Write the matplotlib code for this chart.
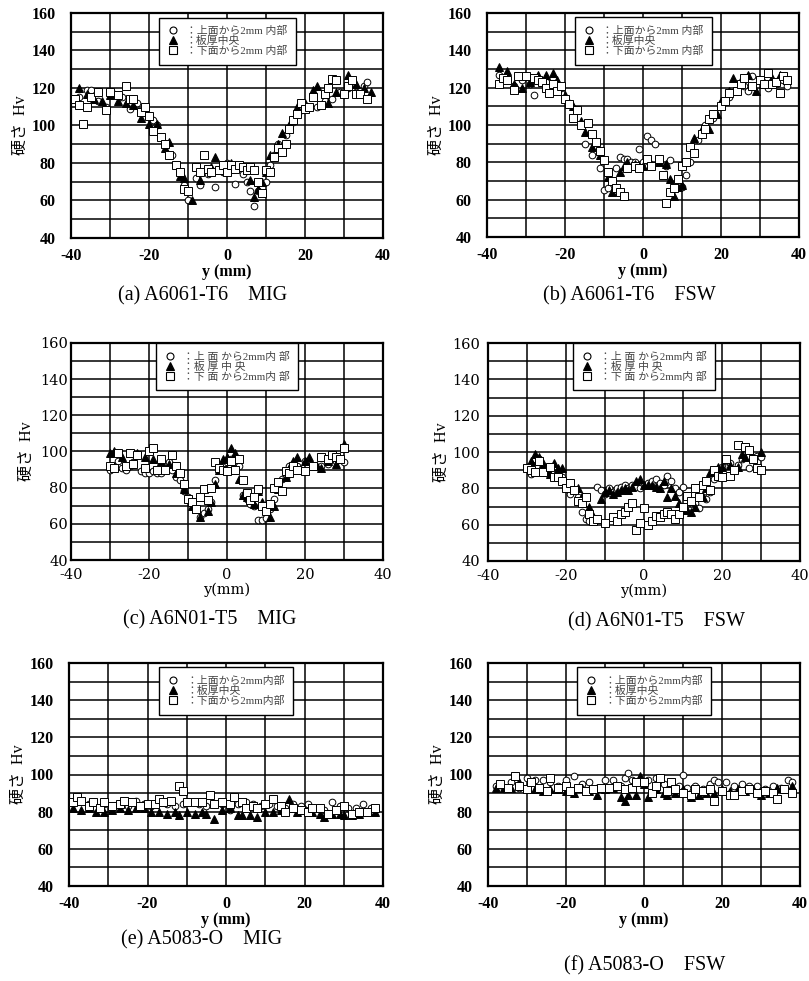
import matplotlib
matplotlib.use("Agg")
import matplotlib.pyplot as plt
from matplotlib.ticker import MultipleLocator

plt.rcParams['font.family'] = ['Liberation Serif', 'Noto Sans CJK JP']
plt.rcParams['axes.unicode_minus'] = False

# (a) A6061-T6 MIG  -- (y [mm], Hv)
a_top = [(-38, 115), (-36, 119), (-35, 119), (-33, 113), (-31, 110), (-29, 117), (-27, 115),
         (-25, 109), (-23, 112), (-21, 108), (-19, 103), (-18, 100), (-16, 90), (-14, 84),
         (-12, 75), (-11, 68), (-10, 60), (-8, 72), (-7, 68), (-5, 74), (-3, 67), (-1, 75),
         (0, 80), (2, 69), (4, 74), (5, 70), (6, 65), (7, 57), (8, 65), (10, 70), (11, 79),
         (12, 84), (13, 90), (15, 95), (17, 102), (19, 108), (21, 110), (23, 110), (25, 113),
         (27, 114), (29, 118), (31, 120), (33, 118), (35, 121), (36, 123)]
a_mid = [(-38, 120), (-36, 117), (-34, 114), (-32, 113), (-30, 116), (-28, 113), (-26, 112),
         (-24, 111), (-22, 104), (-20, 101), (-18, 101), (-16, 88), (-15, 91), (-12, 73),
         (-11, 72), (-9, 60), (-7, 71), (-4, 78), (-3, 83), (-1, 79), (1, 80), (3, 78),
         (5, 76), (6, 71), (7, 62), (8, 66), (9, 70), (10, 75), (11, 84), (13, 90), (14, 96),
         (16, 100), (18, 110), (20, 112), (22, 119), (23, 121), (25, 118), (26, 112), (28, 118),
         (31, 127), (33, 122), (35, 120), (37, 118)]
a_bot = [(-39, 114), (-38, 111), (-37, 101), (-36, 110), (-35, 115), (-33, 118), (-31, 108),
         (-30, 118), (-28, 116), (-26, 121), (-25, 114), (-24, 114), (-22, 107), (-21, 110),
         (-20, 105), (-19, 97), (-17, 94), (-16, 90), (-15, 84), (-13, 79), (-12, 75),
         (-11, 66), (-10, 65), (-8, 78), (-7, 75), (-6, 84), (-5, 77), (-4, 75), (-2, 76),
         (-1, 79), (0, 75), (1, 79), (2, 77), (3, 79), (4, 78), (5, 76), (6, 78), (7, 76),
         (8, 70), (9, 64), (10, 76), (11, 75), (12, 83), (13, 88), (14, 86), (15, 90), (16, 98),
         (17, 103), (18, 106), (19, 112), (20, 109), (21, 110), (22, 115), (24, 111), (25, 117),
         (26, 120), (27, 125), (28, 124), (30, 117), (31, 121), (32, 124), (33, 117), (34, 117),
         (36, 114)]

# (b) A6061-T6 FSW
b_top = [(-37, 127), (-35, 124), (-33, 121), (-31, 124), (-29, 122), (-28, 116), (-25, 123),
         (-23, 121), (-21, 120), (-19, 112), (-17, 108), (-16, 100), (-15, 90), (-13, 84),
         (-11, 77), (-10, 65), (-9, 66), (-7, 77), (-6, 83), (-5, 82), (-4, 82), (-3, 80),
         (-2, 80), (-1, 87), (0, 80), (1, 94), (2, 92), (3, 90), (4, 81), (6, 78), (7, 81),
         (10, 67), (11, 73), (12, 80), (14, 92), (16, 100), (18, 104), (20, 110), (22, 115),
         (24, 118), (26, 121), (27, 118), (28, 126), (30, 124), (32, 120), (34, 122), (36, 124),
         (37, 121)]
b_mid = [(-37, 131), (-35, 129), (-33, 122), (-31, 120), (-29, 123), (-27, 127), (-25, 127),
         (-23, 128), (-22, 124), (-20, 116), (-18, 110), (-16, 102), (-15, 96), (-13, 88),
         (-11, 84), (-9, 72), (-8, 64), (-6, 75), (-5, 78), (-4, 80), (-2, 79), (0, 78),
         (2, 79), (4, 80), (6, 79), (7, 71), (8, 62), (9, 67), (10, 68), (11, 80), (13, 93),
         (15, 98), (17, 98), (19, 106), (20, 113), (22, 118), (23, 125), (25, 124), (27, 127),
         (29, 118), (31, 123), (33, 125), (35, 127), (37, 124)]
b_bot = [(-37, 122), (-36, 125), (-35, 124), (-33, 119), (-32, 126), (-30, 126), (-28, 125),
         (-27, 124), (-26, 123), (-25, 120), (-24, 117), (-23, 122), (-22, 118), (-21, 121),
         (-20, 114), (-19, 111), (-18, 104), (-17, 108), (-16, 100), (-14, 101), (-13, 95),
         (-12, 91), (-11, 86), (-10, 81), (-9, 75), (-8, 70), (-7, 66), (-6, 64), (-5, 62),
         (-4, 77), (-2, 78), (-1, 77), (1, 82), (2, 78), (4, 82), (5, 73), (6, 58), (7, 64),
         (8, 66), (9, 71), (10, 78), (11, 80), (12, 88), (13, 85), (15, 95), (16, 98),
         (17, 103), (18, 106), (20, 110), (21, 113), (22, 117), (24, 118), (25, 122), (26, 125),
         (28, 121), (30, 124), (31, 122), (32, 128), (33, 122), (34, 123), (35, 117), (36, 126),
         (37, 124)]

# (c) A6N01-T5 MIG
c_top = [(-30, 90), (-29, 92), (-28, 95), (-27, 91), (-26, 90), (-25, 92), (-24, 94), (-22, 89),
         (-21, 88), (-20, 88), (-19, 89), (-18, 88), (-17, 88), (-16, 91), (-15, 94), (-14, 90),
         (-13, 86), (-12, 84), (-11, 78), (-10, 75), (-9, 72), (-8, 68), (-7, 64), (-6, 66),
         (-5, 68), (-4, 72), (-3, 84), (-2, 90), (-1, 92), (0, 94), (1, 96), (2, 94), (3, 92),
         (4, 76), (5, 74), (6, 71), (7, 70), (8, 62), (9, 62), (10, 63), (11, 68), (12, 74),
         (13, 80), (14, 85), (15, 86), (16, 92), (17, 93), (18, 92), (19, 90), (20, 95),
         (22, 92), (24, 92), (26, 93), (28, 95), (30, 94)]
c_mid = [(-30, 99), (-29, 100), (-27, 97), (-25, 99), (-23, 99), (-21, 97), (-19, 96), (-17, 95),
         (-15, 93), (-13, 88), (-11, 79), (-9, 70), (-8, 68), (-7, 64), (-5, 67), (-4, 72),
         (-3, 82), (-2, 90), (-1, 96), (0, 97), (1, 102), (2, 99), (3, 85), (4, 76), (5, 75),
         (6, 73), (7, 71), (8, 78), (9, 72), (10, 69), (11, 64), (12, 70), (13, 79), (15, 86),
         (16, 91), (17, 95), (18, 97), (20, 95), (21, 97), (23, 92), (24, 91), (26, 95),
         (28, 93), (30, 104)]
c_bot = [(-30, 92), (-29, 91), (-28, 99), (-26, 92), (-25, 99), (-24, 93), (-23, 98), (-21, 91),
         (-20, 100), (-19, 102), (-18, 90), (-17, 96), (-16, 90), (-14, 98), (-13, 92), (-12, 88),
         (-11, 82), (-10, 74), (-9, 72), (-8, 68), (-7, 75), (-6, 79), (-5, 73), (-4, 80),
         (-3, 94), (-2, 91), (-1, 90), (0, 89), (1, 95), (2, 90), (3, 96), (4, 84), (5, 77),
         (6, 73), (7, 75), (8, 79), (9, 70), (10, 67), (11, 71), (12, 80), (13, 83), (14, 78),
         (15, 89), (16, 88), (17, 92), (18, 90), (20, 89), (22, 92), (24, 97), (26, 96),
         (27, 98), (28, 97), (29, 96), (30, 102)]

# (d) A6N01-T5 FSW
d_top = [(-30, 92), (-29, 88), (-28, 96), (-27, 96), (-26, 90), (-24, 92), (-22, 88), (-21, 86),
         (-20, 80), (-19, 77), (-17, 75), (-16, 67), (-15, 63), (-14, 62), (-13, 63), (-12, 81),
         (-11, 79), (-10, 77), (-9, 80), (-8, 78), (-7, 80), (-6, 81), (-5, 82), (-4, 80),
         (-3, 82), (-2, 81), (-1, 80), (0, 82), (1, 83), (2, 84), (3, 85), (4, 83), (5, 82),
         (6, 87), (7, 84), (8, 80), (9, 78), (10, 81), (11, 76), (12, 72), (13, 72), (14, 69),
         (15, 75), (16, 74), (17, 78), (18, 85), (19, 88), (20, 92), (21, 95), (22, 94),
         (24, 93), (25, 96), (27, 91), (29, 98), (30, 97)]
d_mid = [(-29, 95), (-28, 99), (-27, 97), (-26, 94), (-25, 89), (-24, 88), (-23, 94), (-22, 91),
         (-21, 91), (-19, 82), (-17, 80), (-16, 76), (-14, 70), (-13, 65), (-11, 74), (-10, 78),
         (-9, 79), (-8, 77), (-7, 78), (-6, 79), (-5, 80), (-4, 79), (-3, 81), (-2, 84),
         (-1, 85), (0, 82), (1, 82), (2, 82), (3, 81), (4, 80), (5, 84), (6, 75), (7, 80),
         (8, 76), (9, 72), (10, 68), (11, 68), (12, 67), (13, 70), (15, 75), (16, 80), (17, 89),
         (18, 90), (19, 92), (20, 92), (22, 93), (24, 92), (25, 99), (26, 97), (28, 97),
         (30, 100)]
d_bot = [(-30, 91), (-29, 90), (-28, 89), (-27, 95), (-26, 89), (-24, 92), (-23, 86), (-22, 86),
         (-21, 84), (-20, 80), (-19, 83), (-18, 79), (-17, 73), (-16, 72), (-15, 75), (-14, 66),
         (-13, 62), (-12, 63), (-10, 61), (-8, 64), (-7, 62), (-6, 66), (-5, 67), (-4, 70),
         (-3, 72), (-2, 57), (-1, 61), (0, 69), (1, 60), (2, 62), (3, 65), (4, 64), (5, 66),
         (6, 67), (7, 66), (8, 63), (9, 66), (10, 70), (11, 76), (12, 73), (13, 80), (14, 75),
         (15, 82), (16, 84), (17, 79), (18, 90), (19, 87), (20, 86), (21, 96), (22, 87),
         (23, 90), (24, 104), (26, 103), (27, 101), (28, 96), (29, 91), (30, 90)]

# (e) A5083-O MIG
e_top = [(-39, 85), (-37, 86), (-35, 84), (-33, 82), (-31, 84), (-29, 83), (-27, 84), (-25, 83),
         (-23, 86), (-21, 84), (-19, 83), (-17, 85), (-15, 84), (-13, 83), (-11, 84), (-9, 85),
         (-7, 84), (-5, 83), (-3, 84), (-1, 84), (1, 81), (3, 84), (5, 85), (7, 84), (9, 83),
         (11, 84), (13, 83), (15, 82), (17, 84), (19, 83), (21, 84), (23, 82), (25, 81),
         (27, 85), (29, 83), (31, 82), (33, 82), (35, 84), (37, 82)]
e_mid = [(-39, 82), (-37, 81), (-35, 82), (-33, 80), (-31, 80), (-29, 81), (-27, 82), (-25, 81),
         (-23, 82), (-21, 82), (-19, 80), (-17, 80), (-15, 79), (-13, 80), (-12, 78), (-10, 80),
         (-8, 79), (-6, 80), (-5, 79), (-3, 76), (-1, 81), (1, 82), (3, 78), (4, 78), (6, 78),
         (8, 77), (10, 80), (12, 80), (14, 81), (16, 87), (18, 80), (20, 81), (22, 80), (24, 79),
         (25, 77), (27, 79), (29, 79), (30, 78), (32, 78), (34, 79), (36, 80), (38, 80)]
e_bot = [(-39, 85), (-38, 88), (-37, 86), (-35, 83), (-34, 85), (-32, 82), (-31, 85), (-29, 83),
         (-27, 84), (-26, 86), (-24, 85), (-22, 83), (-20, 84), (-18, 84), (-17, 87), (-16, 85),
         (-14, 86), (-12, 94), (-11, 91), (-10, 85), (-8, 85), (-6, 85), (-4, 89), (-3, 84),
         (-1, 85), (1, 84), (2, 88), (4, 85), (5, 82), (7, 83), (8, 82), (10, 84), (12, 87),
         (14, 83), (15, 80), (17, 82), (19, 81), (21, 80), (22, 82), (24, 82), (26, 79),
         (28, 81), (30, 83), (32, 79), (34, 80), (36, 80), (38, 82)]

# (f) A5083-O FSW
f_top = [(-38, 94), (-36, 92), (-34, 96), (-32, 93), (-30, 98), (-28, 97), (-26, 97), (-24, 96),
         (-22, 94), (-20, 97), (-18, 99), (-16, 95), (-14, 96), (-12, 93), (-10, 97), (-8, 97),
         (-6, 94), (-5, 98), (-4, 101), (-3, 97), (-1, 96), (1, 97), (3, 98), (5, 95), (7, 96),
         (9, 94), (10, 100), (11, 93), (13, 94), (15, 92), (17, 95), (18, 97), (19, 96),
         (21, 96), (23, 94), (25, 95), (27, 94), (29, 94), (31, 92), (33, 94), (35, 93),
         (37, 97), (38, 96)]
f_mid = [(-38, 93), (-36, 93), (-34, 93), (-32, 96), (-30, 92), (-28, 92), (-26, 91), (-24, 92),
         (-22, 92), (-20, 91), (-18, 90), (-16, 93), (-14, 91), (-12, 89), (-10, 92), (-8, 93),
         (-6, 88), (-5, 86), (-4, 89), (-2, 89), (-1, 99), (0, 95), (1, 88), (3, 92), (5, 90),
         (6, 89), (8, 90), (10, 92), (12, 88), (14, 89), (16, 90), (18, 90), (20, 92), (22, 91),
         (24, 92), (26, 91), (28, 92), (30, 89), (32, 90), (34, 93), (36, 92), (38, 94)]
f_bot = [(-37, 95), (-35, 93), (-33, 99), (-32, 94), (-30, 92), (-29, 96), (-27, 93), (-25, 91),
         (-24, 98), (-22, 93), (-20, 94), (-19, 91), (-17, 93), (-15, 91), (-13, 92), (-11, 93),
         (-9, 93), (-7, 94), (-5, 92), (-3, 93), (-2, 96), (0, 96), (2, 90), (3, 94), (4, 98),
         (6, 91), (7, 96), (8, 92), (10, 90), (12, 89), (13, 92), (15, 91), (17, 92), (18, 86),
         (20, 91), (22, 89), (23, 89), (25, 91), (27, 92), (29, 90), (31, 91), (33, 90),
         (34, 87), (36, 92), (38, 90)]

legend_ab = ["：上面から2mm 内部", "：板厚中央", "：下面から2mm 内部"]
legend_cd = ["：上 面 から2mm内 部", "：板 厚 中 央", "：下 面 から2mm内 部"]
legend_ef = ["：上面から2mm内部", "：板厚中央", "：下面から2mm内部"]
captions = ["(a) A6061-T6    MIG", "(b) A6061-T6    FSW", "(c) A6N01-T5    MIG",
            "(d) A6N01-T5    FSW", "(e) A5083-O    MIG", "(f) A5083-O    FSW"]

W, H = 809, 981
fig = plt.figure(figsize=(W / 100, H / 100), dpi=100)


def px_axes(l, t, r, b):
    return fig.add_axes([l / W, 1 - b / H, (r - l) / W, (b - t) / H])


def draw_panel(ax, top, mid, bot, labels, times=True, ypad=11, leg_top=0.98, ylpad=2):
    for data, mk, fc, ms in [(top, 'o', 'white', 4.8), (mid, '^', 'black', 5.2),
                             (bot, 's', 'white', 5.4)]:
        xs = [p[0] for p in data]
        ys = [p[1] for p in data]
        ax.plot(xs, ys, linestyle='none', marker=mk, mfc=fc, mec='black', mew=0.7,
                ms=ms, zorder=3)
    ax.set_xlim(-40, 40)
    ax.set_ylim(40, 160)
    ax.set_xticks([-40, -20, 0, 20, 40])
    ax.set_yticks(range(40, 161, 20))
    ax.xaxis.set_minor_locator(MultipleLocator(10))
    ax.yaxis.set_minor_locator(MultipleLocator(10))
    ax.grid(which='both', color='black', lw=1.1)
    ax.set_axisbelow(True)
    for s in ax.spines.values():
        s.set_linewidth(1.6)
    if times:
        tick_font = dict(family='Liberation Serif', weight='bold', size=11.5)
        xl = "y (mm)"
        ax.tick_params(which='both', length=0, pad=7, axis='x')
    else:
        tick_font = dict(family='DejaVu Serif', size=10.5)
        xl = "y(mm)"
        ax.tick_params(which='both', length=0, pad=6, axis='x')
    ax.tick_params(which='both', length=0, pad=ypad, axis='y')
    for lab in ax.get_xticklabels() + ax.get_yticklabels():
        lab.set_fontproperties(tick_font)
    ax.set_xlabel(xl, fontdict=tick_font, labelpad=0)
    ax.set_ylabel("硬さ  Hv", fontsize=11.5, labelpad=ylpad)
    hs = [plt.Line2D([], [], ls='none', marker='o', mfc='white', mec='black', ms=5, mew=0.8),
          plt.Line2D([], [], ls='none', marker='^', mfc='black', mec='black', ms=5.4, mew=0.8),
          plt.Line2D([], [], ls='none', marker='s', mfc='white', mec='black', ms=5.4, mew=0.8)]
    leg = ax.legend(hs, labels, loc='upper center', bbox_to_anchor=(0.5, leg_top),
                    prop=dict(family=['Liberation Serif', 'Noto Sans CJK JP'], size=7.8),
                    frameon=True, fancybox=False, edgecolor='black',
                    framealpha=1, borderpad=0.8, labelspacing=0.0, handletextpad=0.7,
                    handlelength=1.0, borderaxespad=0)
    leg.get_frame().set_linewidth(1.0)
    for t in leg.get_texts():
        t.set_color('#444444')


ax_a = px_axes(71, 13, 383, 238)
draw_panel(ax_a, a_top, a_mid, a_bot, legend_ab)
ax_b = px_axes(487, 13, 799, 237)
draw_panel(ax_b, b_top, b_mid, b_bot, legend_ab)
ax_c = px_axes(71, 343, 383, 560)
draw_panel(ax_c, c_top, c_mid, c_bot, legend_cd, times=False, ypad=2, leg_top=1.0, ylpad=4)
ax_d = px_axes(488, 343, 800, 561)
draw_panel(ax_d, d_top, d_mid, d_bot, legend_cd, times=False, ypad=6, leg_top=1.0, ylpad=1)
ax_e = px_axes(69, 663, 383, 886)
draw_panel(ax_e, e_top, e_mid, e_bot, legend_ef)
ax_f = px_axes(488, 663, 800, 886)
draw_panel(ax_f, f_top, f_mid, f_bot, legend_ef)

cap_pos = [(203, 296), (629, 296), (210, 620), (657, 622), (202, 940), (645, 966)]
for (cx, cy), txt in zip(cap_pos, captions):
    fig.text(cx / W, 1 - cy / H, txt, ha='center', va='center', fontsize=14.5,
             family='Liberation Serif')

fig.savefig("out.png", dpi=100)
